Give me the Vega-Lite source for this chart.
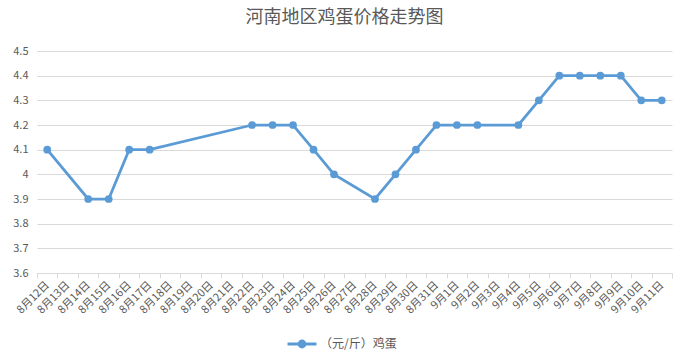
{
  "$schema": "https://vega.github.io/schema/vega-lite/v6.json",
  "width": 635,
  "height": 222,
  "autosize": {"type": "none"},
  "padding": {"left": 37, "top": 51, "right": 16, "bottom": 91},
  "background": "white",
  "title": {
    "text": "河南地区鸡蛋价格走势图",
    "font": "Noto Sans CJK SC",
    "fontSize": 18,
    "fontWeight": "normal",
    "color": "#595959",
    "anchor": "middle",
    "offset": 18,
    "dx": -10
  },
  "config": {
    "view": {"stroke": null},
    "font": "Noto Sans CJK SC"
  },
  "data": {
    "values": [
      {"date": "8月12日", "price": 4.1},
      {"date": "8月14日", "price": 3.9},
      {"date": "8月15日", "price": 3.9},
      {"date": "8月16日", "price": 4.1},
      {"date": "8月17日", "price": 4.1},
      {"date": "8月22日", "price": 4.2},
      {"date": "8月23日", "price": 4.2},
      {"date": "8月24日", "price": 4.2},
      {"date": "8月25日", "price": 4.1},
      {"date": "8月26日", "price": 4.0},
      {"date": "8月28日", "price": 3.9},
      {"date": "8月29日", "price": 4.0},
      {"date": "8月30日", "price": 4.1},
      {"date": "8月31日", "price": 4.2},
      {"date": "9月1日", "price": 4.2},
      {"date": "9月2日", "price": 4.2},
      {"date": "9月4日", "price": 4.2},
      {"date": "9月5日", "price": 4.3},
      {"date": "9月6日", "price": 4.4},
      {"date": "9月7日", "price": 4.4},
      {"date": "9月8日", "price": 4.4},
      {"date": "9月9日", "price": 4.4},
      {"date": "9月10日", "price": 4.3},
      {"date": "9月11日", "price": 4.3}
    ]
  },
  "encoding": {
    "x": {
      "field": "date",
      "type": "ordinal",
      "sort": null,
      "scale": {
        "type": "band",
        "paddingInner": 0,
        "paddingOuter": 0,
        "domain": ["8月12日","8月13日","8月14日","8月15日","8月16日","8月17日","8月18日","8月19日","8月20日","8月21日","8月22日","8月23日","8月24日","8月25日","8月26日","8月27日","8月28日","8月29日","8月30日","8月31日","9月1日","9月2日","9月3日","9月4日","9月5日","9月6日","9月7日","9月8日","9月9日","9月10日","9月11日"]
      },
      "axis": {
        "title": null,
        "tickBand": "extent",
        "labelAngle": -45,
        "labelAlign": "right",
        "labelBaseline": "middle",
        "labelFontSize": 11,
        "labelColor": "#595959",
        "labelPadding": 5,
        "labelOverlap": false,
        "domainColor": "#d9d9d9",
        "tickColor": "#d9d9d9",
        "tickSize": 5,
        "grid": false
      }
    },
    "y": {
      "field": "price",
      "type": "quantitative",
      "scale": {"domain": [3.6, 4.5], "nice": false, "zero": false},
      "axis": {
        "title": null,
        "values": [3.6, 3.7, 3.8, 3.9, 4.0, 4.1, 4.2, 4.3, 4.4, 4.5],
        "labelExpr": "datum.value == 4 ? '4' : format(datum.value, '.1f')",
        "labelFontSize": 11,
        "labelColor": "#595959",
        "labelPadding": 9,
        "domain": false,
        "ticks": false,
        "grid": true,
        "gridColor": "#d9d9d9",
        "gridWidth": 1
      }
    }
  },
  "layer": [
    {
      "mark": {"type": "line", "strokeWidth": 2.75, "color": "#5b9bd5"},
      "encoding": {
        "color": {
          "datum": "（元/斤）鸡蛋",
          "scale": {"range": ["#5b9bd5"]},
          "legend": {
            "title": null,
            "orient": "none",
            "legendX": 249,
            "legendY": 277,
            "labelFontSize": 12,
            "labelColor": "#595959",
            "symbolType": "M-1,0H1M-0.2,0A0.2,0.2,0,1,0,0.2,0A0.2,0.2,0,1,0,-0.2,0Z",
            "symbolSize": 841,
            "symbolStrokeWidth": 3,
            "labelOffset": 2,
            "encode": {
              "symbols": {"update": {"fill": {"value": "#5b9bd5"}, "stroke": {"value": "#5b9bd5"}, "opacity": {"value": 1}}}
            }
          }
        }
      }
    },
    {
      "mark": {"type": "point", "filled": true, "size": 60, "color": "#5b9bd5", "opacity": 1}
    }
  ]
}
